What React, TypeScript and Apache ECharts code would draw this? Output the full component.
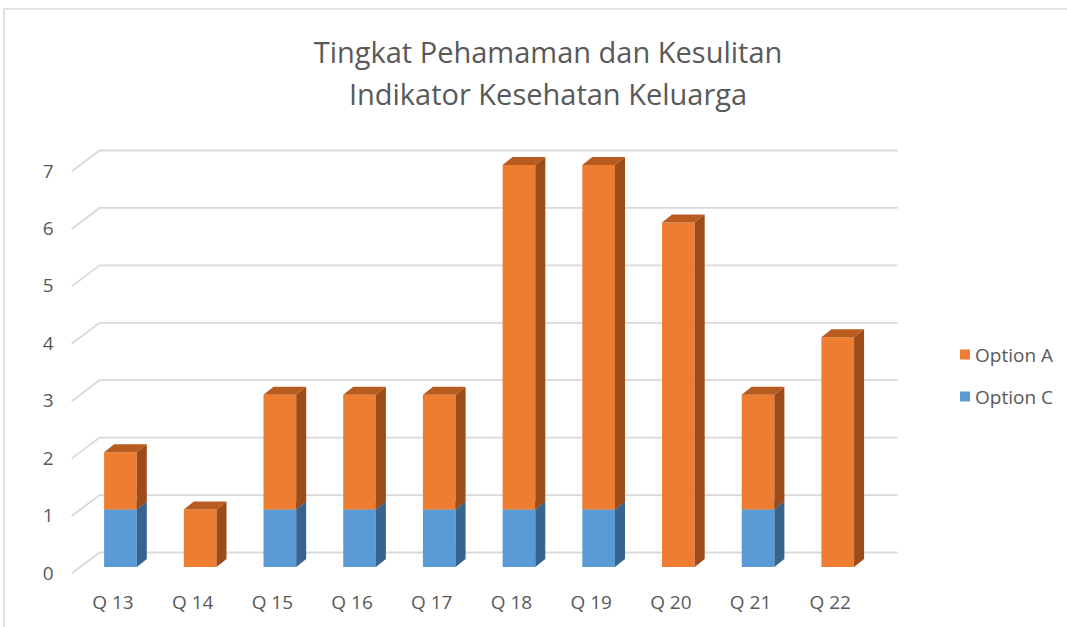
import React, { useEffect, useRef } from 'react';
import * as echarts from 'echarts';

const categories = ['Q 13', 'Q 14', 'Q 15', 'Q 16', 'Q 17', 'Q 18', 'Q 19', 'Q 20', 'Q 21', 'Q 22'];
const optionC = [1, 0, 1, 1, 1, 1, 1, 0, 1, 0];
const optionA = [1, 1, 2, 2, 2, 6, 6, 6, 2, 4];
const yTicks = [0, 1, 2, 3, 4, 5, 6, 7];
const legendNames = ['Option A', 'Option C'];
const titleText = 'Tingkat Pehamaman dan Kesulitan\nIndikator Kesehatan Keluarga';

const FONT = '"Open Sans", sans-serif';
const TEXT = '#595959';
const DX = 10;
const DY = -8;

const faces: Record<string, { front: string; side: string; top: string }> = {
  'Option A': { front: '#ED7D31', side: '#9C4B19', top: '#B85B1F' },
  'Option C': { front: '#5B9BD5', side: '#37648E', top: '#4A80B2' },
};

function barRender(colors: { front: string; side: string; top: string }) {
  return (params: any, api: any) => {
    const i = api.value(0);
    const lo = api.value(1);
    const hi = api.value(2);
    if (hi - lo <= 0) return { type: 'group', children: [] };
    const p0 = api.coord([i, lo]);
    const p1 = api.coord([i, hi]);
    const band = api.size([1, 0])[0];
    const w = band * 0.41;
    const x0 = p0[0] - w / 2;
    const x1 = x0 + w;
    const yb = p0[1];
    const yt = p1[1];
    return {
      type: 'group',
      children: [
        { type: 'rect', shape: { x: x0, y: yt, width: w, height: yb - yt }, style: { fill: colors.front } },
        {
          type: 'polygon',
          shape: { points: [[x1, yb], [x1 + DX, yb + DY], [x1 + DX, yt + DY], [x1, yt]] },
          style: { fill: colors.side },
        },
        {
          type: 'polygon',
          shape: { points: [[x0, yt], [x0 + DX, yt + DY], [x1 + DX, yt + DY], [x1, yt]] },
          style: { fill: colors.top },
        },
      ],
    };
  };
}

export default function App() {
  const ref = useRef<HTMLDivElement>(null);
  useEffect(() => {
    if (!ref.current) return;
    const chart = echarts.init(ref.current, undefined, { renderer: 'svg' });
    const dataC = categories.map((_, i) => [i, 0, optionC[i]]);
    const dataA = categories.map((_, i) => [i, optionC[i], optionC[i] + optionA[i]]);
    chart.setOption({
      animation: false,
      backgroundColor: '#ffffff',
      title: {
        text: titleText,
        left: 548,
        top: 30,
        padding: 0,
        textAlign: 'center',
        textStyle: { fontFamily: FONT, fontSize: 29, fontWeight: 'normal', color: TEXT, lineHeight: 42 },
      },
      legend: {
        data: legendNames,
        orient: 'vertical',
        left: 955,
        top: 340,
        itemWidth: 10,
        itemHeight: 10,
        itemGap: 23,
        icon: 'rect',
        textStyle: { fontFamily: FONT, fontSize: 19, color: TEXT },
      },
      graphic: [
        {
          type: 'rect',
          shape: { x: 4, y: 9, width: 1200, height: 800 },
          style: { fill: 'none', stroke: '#D9D9D9', lineWidth: 1.5 },
          silent: true,
          z: -1,
        },
      ],
      grid: { left: 80.6, right: 189.4, top: 165, bottom: 60, containLabel: false },
      xAxis: {
        type: 'category',
        data: categories,
        axisLine: { show: false },
        axisTick: { show: false },
        axisLabel: { fontFamily: FONT, fontSize: 19, color: TEXT, margin: 25, padding: [0, 15, 0, 0] },
      },
      yAxis: {
        type: 'value',
        min: 0,
        max: 7,
        interval: 1,
        axisLine: { show: false },
        axisTick: { show: false },
        splitLine: { show: false },
        axisLabel: {
          fontFamily: FONT,
          fontSize: 19,
          color: TEXT,
          margin: 27,
          verticalAlign: 'top',
          lineHeight: 11,
        },
      },
      series: [
        {
          type: 'custom',
          name: 'gridlines',
          silent: true,
          z: 1,
          data: yTicks.map((v) => [0, v]),
          encode: { x: 0, y: 1 },
          renderItem: (params: any, api: any) => {
            const y = api.coord([0, api.value(1)])[1];
            const cs = params.coordSys;
            const xl = cs.x;
            const xr = cs.x + cs.width;
            return {
              type: 'polyline',
              shape: { points: [[xl - 9, y + 6.5], [xl + 19, y - 14.5], [xr + 20, y - 14.5]] },
              style: { stroke: '#D9D9D9', lineWidth: 1.8, fill: null },
            };
          },
        },
        {
          type: 'custom',
          name: 'Option C',
          z: 2,
          itemStyle: { color: faces['Option C'].front },
          data: dataC,
          encode: { x: 0, y: [1, 2] },
          renderItem: barRender(faces['Option C']),
        },
        {
          type: 'custom',
          name: 'Option A',
          z: 3,
          itemStyle: { color: faces['Option A'].front },
          data: dataA,
          encode: { x: 0, y: [1, 2] },
          renderItem: barRender(faces['Option A']),
        },
      ],
    });
    return () => chart.dispose();
  }, []);
  return <div ref={ref} style={{ position: 'fixed', left: 0, top: 0, width: 1067, height: 627 }} />;
}
